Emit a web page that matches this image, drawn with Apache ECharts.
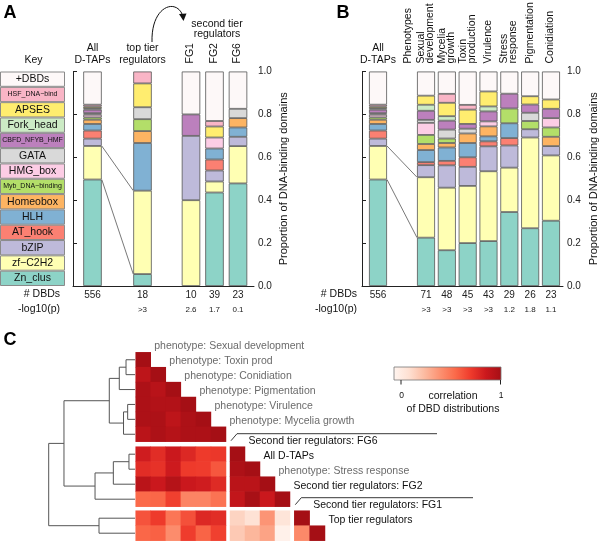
<!DOCTYPE html>
<html><head><meta charset="utf-8">
<script src="https://cdn.jsdelivr.net/npm/echarts@6/dist/echarts.min.js"></script>
<style>html,body{margin:0;padding:0;background:#fff;}#chart{width:600px;height:541px;}</style>
</head><body><div id="chart"></div>
<script>
// ================= DATA =================
const domains = ['Zn_clus','zf\u2212C2H2','bZIP','AT_hook','HLH','Homeobox','Myb_DNA\u2212binding','HMG_box','GATA','CBFD_NFYB_HMF','Fork_head','APSES','HSF_DNA\u2212bind','+DBDs'];
const domainColors = ['#8dd3c7','#ffffb3','#bebada','#fb8072','#80b1d3','#fdb462','#b3de69','#fccde5','#d9d9d9','#bc80bd','#ccebc5','#ffed6f','#f9b5c6','#fdf8f8'];

// Panel A
const catsA1 = ['All\nD-TAPs'];
const dbdA1 = ['556'];
const pA1 = [''];
const countsA1 = [[276,87,19,21,17,11,6,7,4,9,4,4,5,86]];
const catsA2 = ['top tier\nregulators'];
const dbdA2 = ['18'];
const pA2 = ['>3'];
const countsA2 = [[1,7,0,0,4,1,1,0,1,0,0,2,1,0]];
const catsA3 = ['FG1','FG2','FG6'];
const dbdA3 = ['10','39','23'];
const pA3 = ['2.6','1.7','0.1'];
const countsA3 = [
  [0,4,3,0,0,0,0,0,0,1,0,0,0,2],
  [17,2,2,2,2,0,0,2,0,0,0,2,1,9],
  [11,4,1,0,1,1,0,0,1,0,0,0,0,4]];

// Panel B
const catsB1 = ['All\nD-TAPs'];
const dbdB1 = ['556'];
const pB1 = [''];
const countsB1 = [[276,87,19,21,17,11,6,7,4,9,4,4,5,86]];
const catsB2 = ['Sexual\ndevelopment','Mycelia\ngrowth','Toxin\nproduction','Virulence','Stress\nresponse','Pigmentation','Conidiation'];
const dbdB2 = ['71','48','45','43','29','26','23'];
const pB2 = ['>3','>3','>3','>3','1.2','1.8','1.1'];
const countsB2 = [
  [16,20,4,1,4,2,3,4,1,3,2,3,0,8],
  [8,14,5,1,3,1,1,0,2,2,1,3,2,5],
  [9,12,4,2,3,2,0,0,1,1,0,3,1,7],
  [9,14,5,1,1,2,0,1,0,2,1,3,0,4],
  [10,6,3,1,2,0,2,0,0,2,0,0,0,3],
  [7,11,1,0,0,0,1,0,1,1,0,1,0,3],
  [7,7,1,0,0,1,1,1,0,1,0,1,0,3]];

// Panel C
const cLabels = ['phenotype: Sexual development','phenotype: Toxin prod','phenotype: Conidiation','phenotype: Pigmentation','phenotype: Virulence','phenotype: Mycelia growth','Second tier regulators: FG6','All D-TAPs','phenotype: Stress response','Second tier regulators: FG2','Second tier regulators: FG1','Top tier regulators'];
const cBlockSizes = [6,4,2];
const corr = [
  [1],
  [0.91,1],
  [0.97,0.93,1],
  [0.97,0.95,0.95,1],
  [0.97,0.97,0.91,0.97,1],
  [0.92,0.97,0.94,0.97,0.97,1],
  [0.84,0.77,0.86,0.79,0.72,0.73,1],
  [0.77,0.75,0.85,0.72,0.71,0.63,0.97,1],
  [0.92,0.86,0.94,0.86,0.84,0.78,0.92,0.92,1],
  [0.57,0.58,0.70,0.48,0.48,0.54,0.89,0.99,0.86,1],
  [0.64,0.72,0.53,0.65,0.79,0.77,0.19,0.13,0.42,0.11,1],
  [0.58,0.60,0.45,0.71,0.59,0.70,0.23,0.30,0.37,0.03,0.46,1]];
// linkage: [childA, childB, height]; new clusters get ids 12,13,...
const linkage = [
  [0,1,0.104],[12,2,0.182],[3,4,0.085],[14,5,0.133],[13,15,0.298],
  [6,7,0.07],[17,8,0.251],[18,9,0.463],[16,19,0.823],[10,11,0.417],[20,21,1.0]];
const colorRamp = ['#fff5f0','#fee0d2','#fcbba1','#fc9272','#fb6a4a','#ef3b2c','#cb181d','#a50f15'];

// ================= CHART =================
const FONT = '"Liberation Sans", Arial, Helvetica, sans-serif';
const chart = echarts.init(document.getElementById('chart'));
const grids = [], xAxes = [], yAxes = [], series = [];
const addGrid = g => { grids.push(Object.assign({containLabel:false, outerBoundsMode:'none'}, g)); return grids.length - 1; };
const addX = a => { xAxes.push(a); return xAxes.length - 1; };
const addY = a => { yAxes.push(a); return yAxes.length - 1; };
const BAR_TOP = 71.5, BAR_H = 214.5;

// Key
const smallKey = ['HSF_DNA\u2212bind','CBFD_NFYB_HMF','Myb_DNA\u2212binding'];
const gKey = addGrid({left:0, top:BAR_TOP, width:65, height:BAR_H});
const kx = addX({gridIndex:gKey, type:'value', min:0, max:1, show:false});
const ky = addY({gridIndex:gKey, type:'category', data:domains, show:false});
series.push({type:'bar', xAxisIndex:kx, yAxisIndex:ky, barWidth:'100%', silent:true,
  data: domains.map((d,i)=>({value:1, itemStyle:{color:domainColors[i]},
      label:{fontSize: smallKey.includes(d) ? 7 : 10.5}})),
  itemStyle:{borderColor:'#8a8a8a', borderWidth:1},
  label:{show:true, position:'inside', formatter:p=>p.name, color:'#111', fontFamily:FONT}});

// frames (axis lines + right y axis)
function frame(left, width, nameGap){
  const g = addGrid({left, top:BAR_TOP, width, height:BAR_H});
  addX({gridIndex:g, type:'value', min:0, max:1, axisLine:{show:true, lineStyle:{color:'#222', width:1}},
    axisTick:{show:false}, axisLabel:{show:false}, splitLine:{show:false}});
  addY({gridIndex:g, type:'value', min:0, max:1, interval:0.2, position:'right',
    axisLine:{show:true, lineStyle:{color:'#222', width:1}},
    axisTick:{show:true, inside:false, length:4, lineStyle:{color:'#222'}},
    axisLabel:{formatter:v=>v.toFixed(1), fontSize:10, color:'#222', margin:4, fontFamily:FONT, showMinLabel:true, showMaxLabel:true},
    splitLine:{show:false},
    name:'Proportion of DNA-binding domains', nameLocation:'middle', nameRotate:90, nameGap,
    nameMoveOverlap:false,
    nameTextStyle:{fontSize:11, color:'#111', fontFamily:FONT}});
}
frame(73, 181, 24);
frame(362, 201, 25);

function barGroup(o){
  const g = addGrid({left:o.left, top:BAR_TOP, width:o.width, height:BAR_H});
  const xb = addX({gridIndex:g, type:'category', data:o.cats, position:'bottom',
    axisLine:{show:false}, axisTick:{show:false},
    axisLabel:{interval:0, margin:2, hideOverlap:false,
      formatter:(v,i)=>'{n|'+o.dbd[i]+'}\n{p|'+(o.p[i]||' ')+'}',
      rich:{n:{fontSize:10, lineHeight:14, color:'#222', fontFamily:FONT},
            p:{fontSize:8, lineHeight:15, color:'#222', fontFamily:FONT}}}});
  addX({gridIndex:g, type:'category', data:o.cats, position:'top',
    axisLine:{show:false}, axisTick:{show:false},
    axisLabel:{show:!o.rotate, interval:0, margin:o.margin, hideOverlap:false, fontSize:10.5, lineHeight:11.5,
      color:'#111', fontFamily:FONT}});
  const y = addY({gridIndex:g, type:'value', min:0, max:1, show:false});
  domains.forEach((d,k)=>{
    series.push({type:'bar', name:d, stack:'s'+g, xAxisIndex:xb, yAxisIndex:y, barWidth:o.barWidth, silent:true,
      data:o.counts.map(c=>{const t=c.reduce((a,b)=>a+b,0); return c[k] ? c[k]/t : null;}),
      itemStyle:{color:domainColors[k], borderColor:'#555', borderWidth:0.8}});
  });
  return {xb, y, barWidth:o.barWidth, counts:o.counts, cats:o.cats, rotate:!!o.rotate};
}
const A1 = barGroup({left:80.5, width:24, cats:catsA1, dbd:dbdA1, p:pA1, counts:countsA1, barWidth:18.5, margin:6});
const A2 = barGroup({left:130.5, width:24, cats:catsA2, dbd:dbdA2, p:pA2, counts:countsA2, barWidth:18.5, margin:6});
const A3 = barGroup({left:179.25, width:70.5, cats:catsA3, dbd:dbdA3, p:pA3, counts:countsA3, barWidth:18.5, rotate:90});
const B1 = barGroup({left:366, width:24, cats:catsB1, dbd:dbdB1, p:pB1, counts:countsB1, barWidth:18, margin:6});
const B2 = barGroup({left:415.6, width:145.8, cats:catsB2, dbd:dbdB2, p:pB2, counts:countsB2, barWidth:18, rotate:90});

// Dendrogram axis grid
const gD = addGrid({left:48.7, top:352, width:86.3, height:188});
const dX = addX({gridIndex:gD, type:'value', min:0, max:1, inverse:true, show:false});
const dY = addY({gridIndex:gD, type:'value', min:0, max:1, show:false});

// Heatmap blocks
const colLeft = [135.7, 230, 294.3], colW = [90.3, 60, 30.7];
const rowTop = [352.3, 446.7, 510.7], rowH = [89.4, 60, 30];
const blockStart = []; {let s=0; cBlockSizes.forEach(n=>{blockStart.push(s); s+=n;});}
const heatAxes = [[],[],[]];
const heatSeries = [];
for (let rb=0; rb<3; rb++){
  for (let cb=0; cb<=rb; cb++){
    const g = addGrid({left:colLeft[cb], top:rowTop[rb], width:colW[cb], height:rowH[rb]});
    const rs = blockStart[rb], cs = blockStart[cb];
    const xa = addX({gridIndex:g, type:'category', data:cLabels.slice(cs, cs+cBlockSizes[cb]), show:false});
    const ya = addY({gridIndex:g, type:'category', data:cLabels.slice(rs, rs+cBlockSizes[rb]), inverse:true, show:false});
    heatAxes[rb][cb] = {xa, ya};
    const data = [];
    for (let i=rs; i<rs+cBlockSizes[rb]; i++)
      for (let j=cs; j<cs+cBlockSizes[cb]; j++)
        if (j<=i) data.push([j-cs, i-rs, corr[i][j]]);
    heatSeries.push(series.length);
    series.push({type:'heatmap', xAxisIndex:xa, yAxisIndex:ya, data, silent:true, itemStyle:{borderWidth:0}, emphasis:{disabled:true}});
  }
}

chart.setOption({
  animation:false,
  backgroundColor:'#fff',
  textStyle:{fontFamily:FONT},
  grid:grids, xAxis:xAxes, yAxis:yAxes, series,
  visualMap:{type:'continuous', show:false, min:0, max:1, seriesIndex:heatSeries, inRange:{color:colorRamp}}
});

// ================= GRAPHIC OVERLAY =================
const G = [];
const P = (xa, ya, v) => chart.convertToPixel({xAxisIndex:xa, yAxisIndex:ya}, v);
function txt(x, y, text, o={}){
  G.push({type:'text', x, y, rotation:o.rot||0, silent:true, z:10,
    style:{text, fontSize:o.fs||10.5, fontFamily:FONT, fill:o.fill||'#111', align:o.align||'center',
      verticalAlign:o.va||'middle', fontWeight:o.fw||'normal', lineHeight:o.lh||12}});
}
function line(pts, o={}){
  G.push({type:'polyline', silent:true, z:10, shape:{points:pts}, style:{stroke:o.stroke||'#555', lineWidth:o.lw||0.8, fill:null}});
}
function cum(c, k){ const t=c.reduce((a,b)=>a+b,0); let s=0; for(let i=0;i<k;i++) s+=c[i]; return s/t; }
function connect(F, fi, T, ti){
  for (const k of [1,2]){
    const a = P(F.xb, F.y, [fi, cum(F.counts[fi], k)]);
    const b = P(T.xb, T.y, [ti, cum(T.counts[ti], k)]);
    line([[a[0]+F.barWidth/2, a[1]], [b[0]-T.barWidth/2, b[1]]], {stroke:'#555', lw:0.8});
  }
}
connect(A1, 0, A2, 0);
connect(B1, 0, B2, 0);

// rotated column names (reading bottom-to-top, ending just above the bars)
[A3, B2].forEach(Gp=>{
  Gp.cats.forEach((c,i)=>{
    const cx = P(Gp.xb, Gp.y, [i, 0])[0];
    txt(cx - 0.5, 63.5, c, {rot:Math.PI/2, align:'left', va:'middle', lh:9});
  });
});

// Titles & headers
txt(10, 13, 'A', {fs:18, fw:'bold', fill:'#000'});
txt(343, 13, 'B', {fs:18, fw:'bold', fill:'#000'});
txt(10, 340, 'C', {fs:18, fw:'bold', fill:'#000'});
txt(33.5, 60, 'Key');
txt(217, 29, 'second tier\nregulators', {lh:10});
txt(408.5, 63.5, 'Phenotypes', {rot:Math.PI/2, align:'left'});
txt(60, 294, '# DBDs', {align:'right'});
txt(60, 309, '-log10(p)', {align:'right'});
txt(357, 294, '# DBDs', {align:'right'});
txt(357, 309, '-log10(p)', {align:'right'});
// curved arrow
G.push({type:'bezierCurve', silent:true, shape:{x1:152, y1:42, cpx1:151, cpy1:6, cpx2:176, cpy2:-2, x2:182.5, y2:15},
  style:{stroke:'#111', lineWidth:1, fill:null}});
G.push({type:'polygon', silent:true, shape:{points:[[183.5,21],[179,14],[186.5,13.5]]}, style:{fill:'#111'}});

// Dendrogram
const nLeaves = cLabels.length;
const blockOf = i => (i < blockStart[1] ? 0 : (i < blockStart[2] ? 1 : 2));
const pos = {};
for (let i=0; i<nLeaves; i++){
  const rb = blockOf(i); const ax = heatAxes[rb][0];
  pos[i] = {x: P(dX, dY, [0, 0])[0], y: P(ax.xa, ax.ya, [0, i-blockStart[rb]])[1]};
}
linkage.forEach(([a,b,h],k)=>{
  const x = P(dX, dY, [h, 0])[0]; const A = pos[a], B = pos[b];
  line([[A.x, A.y],[x, A.y],[x, B.y],[B.x, B.y]], {stroke:'#555', lw:1});
  pos[nLeaves+k] = {x, y:(A.y+B.y)/2};
});

// Heatmap labels
for (let i=0; i<nLeaves; i++){
  const rb = blockOf(i); const ax = heatAxes[rb][rb];
  const c = P(ax.xa, ax.ya, [i-blockStart[rb], i-blockStart[rb]]);
  const hw = colW[rb]/cBlockSizes[rb]/2, hh = rowH[rb]/cBlockSizes[rb]/2;
  const isPh = cLabels[i].indexOf('phenotype') === 0;
  txt(c[0]+hw+3.5, c[1]-hh-6, cLabels[i], {align:'left', fill: isPh ? '#6b6b6b' : '#111'});
  if (i === blockStart[rb] && rb > 0){
    const L = colLeft[rb], top = c[1]-hh;
    const endX = rb === 1 ? 437 : 473;
    line([[L+1, top-6],[L+7, top-13],[endX, top-13]], {stroke:'#222', lw:0.9});
  }
}

// Colour bar
G.push({type:'rect', silent:true, shape:{x:394, y:367, width:107, height:13},
  style:{fill:new echarts.graphic.LinearGradient(0,0,1,0, colorRamp.map((c,i)=>({offset:i/(colorRamp.length-1), color:c}))),
    stroke:'#777', lineWidth:0.8}});
line([[401,380],[401,384.5]], {stroke:'#222', lw:1});
line([[500.5,380],[500.5,384.5]], {stroke:'#222', lw:1});
txt(401.5, 396, '0', {fs:8.5});
txt(501, 396, '1', {fs:8.5});
txt(453, 396, 'correlation');
txt(453, 409, 'of DBD distributions');

chart.setOption({graphic:{elements:G}});
</script>
</body></html>
